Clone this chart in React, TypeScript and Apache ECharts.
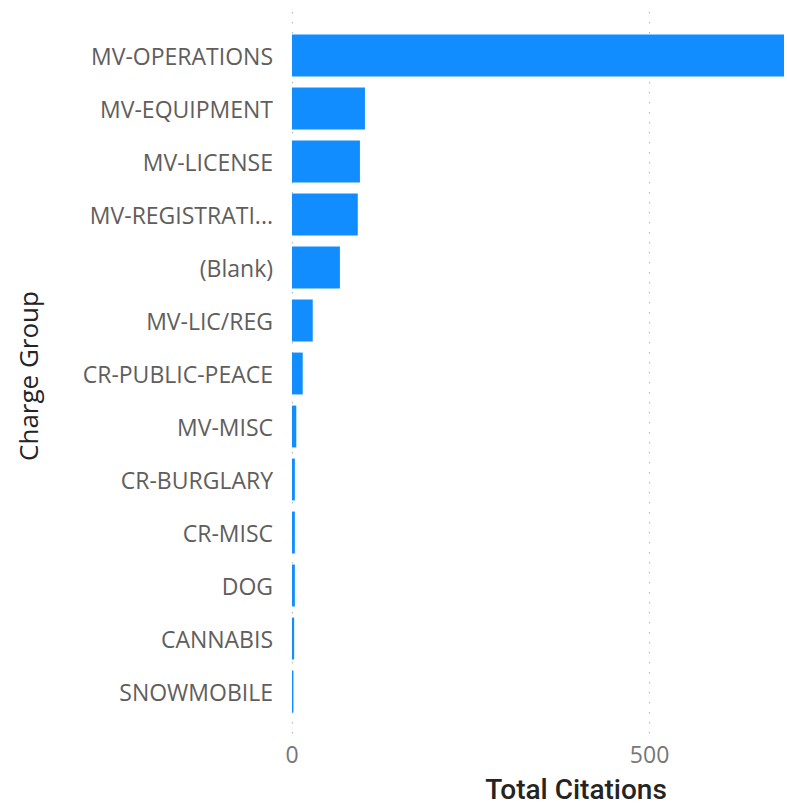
import React, { useEffect, useRef } from "react";
import * as echarts from "echarts";

const categories = [
  "MV-OPERATIONS",
  "MV-EQUIPMENT",
  "MV-LICENSE",
  "MV-REGISTRATION",
  "(Blank)",
  "MV-LIC/REG",
  "CR-PUBLIC-PEACE",
  "MV-MISC",
  "CR-BURGLARY",
  "CR-MISC",
  "DOG",
  "CANNABIS",
  "SNOWMOBILE",
];
const citations = [688, 102, 95, 92, 67, 29, 15, 6, 4, 4, 4, 3, 2];
const xMax = 688;
const xInterval = 500;

export default function App() {
  const ref = useRef<HTMLDivElement>(null);
  useEffect(() => {
    if (!ref.current) return;
    const chart = echarts.init(ref.current, undefined, { renderer: "svg" });
    chart.setOption({
      animation: false,
      grid: [
        { left: 292, right: 3, top: 29, bottom: 87, containLabel: false },
        { left: 292, right: 3, top: 12, bottom: 70, containLabel: false },
      ],
      xAxis: [
        {
          type: "value",
          gridIndex: 0,
          min: 0,
          max: xMax,
          interval: xInterval,
          axisLine: { show: false },
          axisTick: { show: false },
          splitLine: { show: false },
          axisLabel: {
            showMaxLabel: false,
            color: "#777777",
            fontSize: 23,
            fontFamily: "Open Sans",
            margin: 24,
          },
        },
        {
          type: "value",
          gridIndex: 1,
          min: 0,
          max: xMax,
          interval: xInterval,
          axisLine: { show: false },
          axisTick: { show: false },
          axisLabel: { show: false },
          splitLine: {
            show: true,
            showMaxLine: false,
            lineStyle: { color: "#BDBBB9", type: [1.5, 8.5], width: 1.2 },
          },
        },
      ],
      yAxis: [
        {
          type: "category",
          gridIndex: 0,
          data: categories,
          inverse: true,
          axisLine: { show: false },
          axisTick: { show: false },
          axisLabel: {
            color: "#605E5C",
            fontSize: 23,
            fontFamily: "Open Sans",
            margin: 19,
            formatter: (v: string) =>
              v === "MV-REGISTRATION" ? "MV-REGISTRATI..." : v,
          },
        },
        {
          type: "category",
          gridIndex: 1,
          data: categories,
          show: false,
        },
      ],
      series: [
        {
          type: "bar",
          xAxisIndex: 0,
          yAxisIndex: 0,
          data: citations,
          barCategoryGap: "21%",
          itemStyle: { color: "#118DFF" },
        },
      ],
      graphic: [
        {
          type: "text",
          x: 576,
          y: 789,
          style: {
            text: "Total Citations",
            fill: "#252423",
            font: "500 28px Roboto",
            textAlign: "center",
            textVerticalAlign: "middle",
          },
        },
        {
          type: "text",
          x: 28,
          y: 376,
          rotation: Math.PI / 2,
          style: {
            text: "Charge Group",
            fill: "#252423",
            font: "normal 26px 'Open Sans'",
            textAlign: "center",
            textVerticalAlign: "middle",
          },
        },
      ],
    });
    return () => chart.dispose();
  }, []);
  return <div ref={ref} style={{ width: 787, height: 805, position: "absolute", left: 0, top: 0 }} />;
}
